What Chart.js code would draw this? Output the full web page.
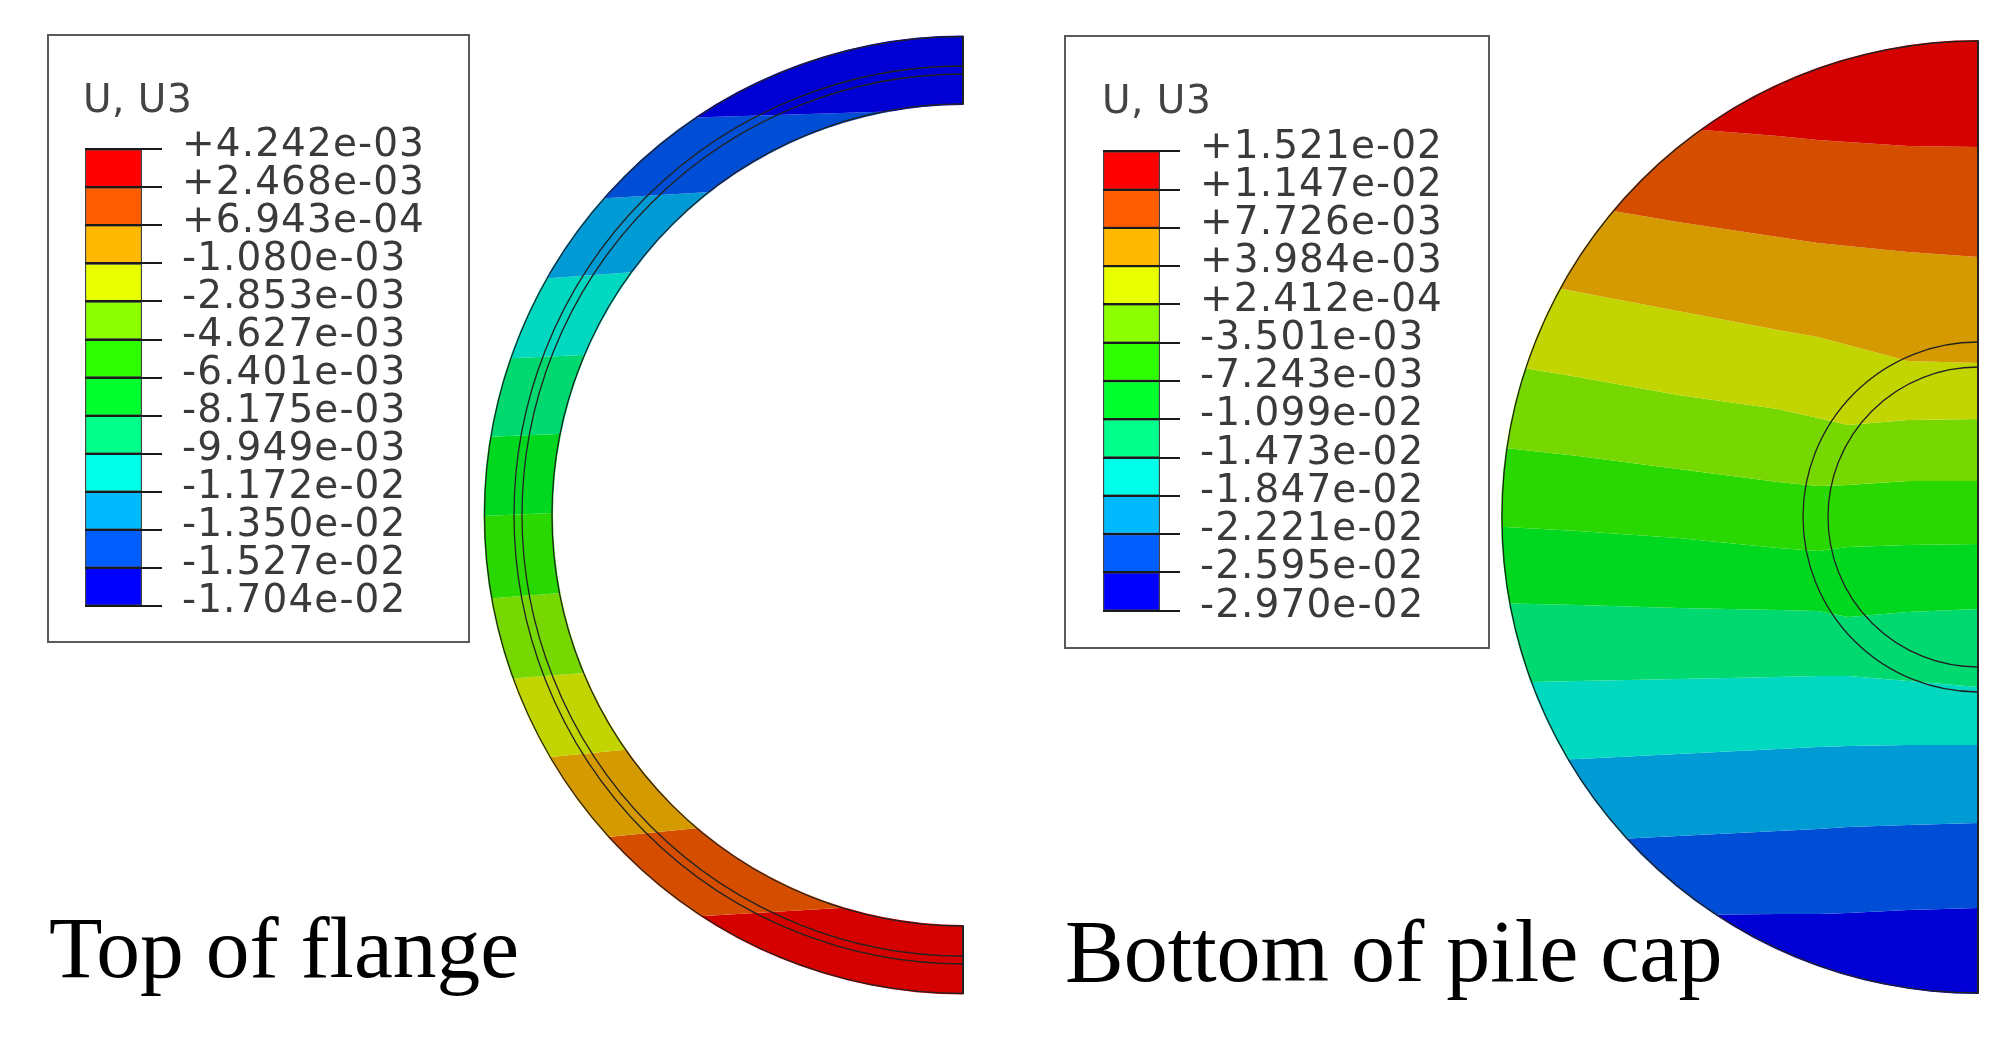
<!DOCTYPE html>
<html><head><meta charset="utf-8">
<script src="https://cdn.jsdelivr.net/npm/chart.js@4"></script>
<style>
html,body{margin:0;padding:0;background:#fff;overflow:hidden}
#page{position:relative;width:2016px;height:1041px;filter:blur(.7px)}
#page canvas{position:absolute}
.wrap{position:absolute}
.box{position:absolute;box-sizing:border-box;border:2.5px solid #5a5a5a}
.utitle{position:absolute;font:39px "DejaVu Sans";letter-spacing:.5px;color:#444;line-height:39px;white-space:nowrap}
.cap{position:absolute;font:87.5px "Liberation Serif";color:#000;line-height:86px;white-space:nowrap}
</style></head><body>
<div id="page">
<div class="box" style="left:47px;top:34px;width:423px;height:609px"></div>
<div class="box" style="left:1064px;top:35px;width:426px;height:614px"></div>
<div class="utitle" style="left:83px;top:79px">U, U3</div>
<div class="utitle" style="left:1102px;top:80px">U, U3</div>
<div class="cap" style="left:49px;top:905px">Top of flange</div>
<div class="cap" style="left:1065px;top:909px;font-size:88px">Bottom of pile cap</div>
<div class="wrap" style="left:473px;top:25px;width:492px;height:980px"><canvas id="ring"></canvas></div>
<div class="wrap" style="left:1488px;top:27px;width:492px;height:980px"><canvas id="disc"></canvas></div>
<div class="wrap" style="left:85px;top:106px;width:380px;height:543px"><canvas id="legendA"></canvas></div>
<div class="wrap" style="left:1103px;top:108px;width:380px;height:546px"><canvas id="legendB"></canvas></div>
</div>
<script>
// --- legend values
const flangeTicks = ["+4.242e-03","+2.468e-03","+6.943e-04","-1.080e-03","-2.853e-03","-4.627e-03","-6.401e-03","-8.175e-03","-9.949e-03","-1.172e-02","-1.350e-02","-1.527e-02","-1.704e-02"];
const capTicks = ["+1.521e-02","+1.147e-02","+7.726e-03","+3.984e-03","+2.412e-04","-3.501e-03","-7.243e-03","-1.099e-02","-1.473e-02","-1.847e-02","-2.221e-02","-2.595e-02","-2.970e-02"];
const legendColors = ["#FF0000","#FF5D00","#FFB900","#E8FF00","#8BFF00","#2EFF00","#00FF2E","#00FF8B","#00FFE8","#00B9FF","#005DFF","#0000FF"];
const bandColors = ["#D50000","#D54E00","#D59A00","#C3D500","#76D800","#28D800","#00D820","#00D870","#00D8C0","#009AD5","#004ED5","#0000D5"];

// --- top of flange: ring radii and contour boundaries (y at ringX, top to bottom, model units)
const ringRadii = {outer:478.5, inner:411, lineA:449, lineB:441};
const ringX = [-490, 0];
const ringTop = [490, 490];
const ringB1 = [390.7, 405.7];
const ringB2 = [309, 337.9];
const ringB3 = [231.3, 266.8];
const ringB4 = [155.1, 177.2];
const ringB5 = [77.6, 97.3];
const ringB6 = [-1.4, 19.7];
const ringB7 = [-84.7, -47];
const ringB8 = [-166.6, -129];
const ringB9 = [-249.4, -202];
const ringB10 = [-335.6, -286.6];
const ringB11 = [-414.7, -385.7];
const ringBottom = [-490, -490];
const ringBounds = [ringTop,ringB1,ringB2,ringB3,ringB4,ringB5,ringB6,ringB7,ringB8,ringB9,ringB10,ringB11,ringBottom];
const ringColorsTopDown = bandColors.slice().reverse();

// --- bottom of pile cap: disc radii and contour boundaries
const discRadii = {outer:476, lineA:175, lineB:150};
const discX = [-490,-400,-300,-200,-160,-130,-70,0];
const discTop = [490,490,490,490,490,490,490,490];
const discB1 = [405,398,389,381,377,375,371,370];
const discB2 = [326,312,295,280,274,271,265,260];
const discB3 = [242,225,206,187,180,172,156,154];
const discB4 = [155,140,122,108,99,92,97,98];
const discB5 = [71,61,48,35,31,32,36,36];
const discB6 = [-9,-14,-21,-31,-34,-30,-28,-27];
const discB7 = [-86,-88,-91,-93,-94,-100,-95,-92];
const discB8 = [-166,-164,-162,-160,-159,-159,-164,-170];
const discB9 = [-244,-242,-237,-232,-230,-229,-228,-228];
const discB10 = [-329,-324,-319,-314,-312,-310,-308,-306];
const discB11 = [-400,-399,-398,-397,-397,-396,-393,-391];
const discBottom = [-490,-490,-490,-490,-490,-490,-490,-490];
const discBounds = [discTop,discB1,discB2,discB3,discB4,discB5,discB6,discB7,discB8,discB9,discB10,discB11,discBottom];

Chart.defaults.animation = false;
Chart.defaults.responsive = false;
Chart.defaults.events = [];

function legendChart(id, labels, h){
  const el = document.getElementById(id);
  el.width = 380; el.height = h;
  const values = labels.map(Number);
  const datasets = legendColors.map((c,i)=>({
    data:[[values[i+1],values[i]]], backgroundColor:c, borderColor:'#444', borderWidth:1.5,
    borderSkipped:false, grouped:false, barPercentage:1, categoryPercentage:1
  }));
  new Chart(el,{type:'bar',data:{labels:['U3'],datasets},options:{
    devicePixelRatio:1, maintainAspectRatio:false,
    layout:{padding:{top:30,bottom:30}},
    plugins:{legend:{display:false},tooltip:{enabled:false},title:{display:false}},
    scales:{
      x:{display:false},
      y:{position:'right',min:values[values.length-1],max:values[0],
        afterBuildTicks:s=>{s.ticks=values.map(v=>({value:v}));},
        afterFit:s=>{s.width=380-57;},
        border:{display:false},
        grid:{color:'#1a1a1a',lineWidth:2,tickLength:20,z:1,drawOnChartArea:true},
        ticks:{autoSkip:false,padding:20,labelOffset:-4,color:'#3a3a3a',font:{family:'DejaVu Sans',size:39},
          callback:(v,i)=>labels[i]}
      }
    }
  },plugins:[{id:'wideText',beforeDraw(chart){chart.ctx.letterSpacing='1.1px';}}]});
}

function contourChart(id, xs, bounds, colors, circles, clipFn, edges){
  const el = document.getElementById(id);
  el.width = 492; el.height = 980;
  const toPts = (ys)=>ys.map((y,i)=>({x:xs[i],y}));
  const ds = [];
  bounds.forEach((ys,i)=>{
    ds.push({data:toPts(ys),borderWidth:0,pointRadius:0,tension:0,order:5,
      fill:i===0?false:'-1',backgroundColor:i===0?'transparent':colors[i-1],borderColor:'transparent'});
  });
  circles.forEach(r=>{
    ds.push({data:[{x:0,y:0}],showLine:false,order:1,
      pointStyle:'circle',backgroundColor:'transparent',borderColor:'#222',pointBorderWidth:1.3,
      pointBackgroundColor:'transparent',pointBorderColor:'#222',
      pointRadius:c=>c.chart.scales.x.getPixelForValue(r)-c.chart.scales.x.getPixelForValue(0)});
  });
  edges.forEach(seg=>{
    ds.push({data:seg.map(y=>({x:0,y})),borderColor:'#222',borderWidth:2,pointRadius:0,order:1,fill:false,clip:3});
  });
  new Chart(el,{type:'line',data:{datasets:ds},options:{
    devicePixelRatio:1, maintainAspectRatio:false,
    layout:{padding:0},
    plugins:{legend:{display:false},tooltip:{enabled:false},title:{display:false}},
    scales:{
      x:{type:'linear',display:false,min:-490,max:2},
      y:{type:'linear',display:false,min:-490,max:490}
    }
  },plugins:[{
    id:'shapeClip',
    beforeDatasetsDraw(chart){
      const ctx=chart.ctx, sx=chart.scales.x, sy=chart.scales.y;
      const cx=sx.getPixelForValue(0), cy=sy.getPixelForValue(0), u=v=>sx.getPixelForValue(v)-cx;
      ctx.save();
      ctx.beginPath();
      ctx.rect(0,0,cx+1,chart.height);
      ctx.clip();
      ctx.beginPath();
      clipFn(ctx,cx,cy,u);
      ctx.clip('evenodd');
    },
    afterDatasetsDraw(chart){chart.ctx.restore();}
  }]});
}

legendChart('legendA',flangeTicks,543);
legendChart('legendB',capTicks,546);
contourChart('ring',ringX,ringBounds,ringColorsTopDown,
  [ringRadii.outer,ringRadii.inner,ringRadii.lineA,ringRadii.lineB],
  (ctx,cx,cy,u)=>{ctx.arc(cx,cy,u(ringRadii.outer+1),0,Math.PI*2);ctx.arc(cx,cy,u(ringRadii.inner-1),0,Math.PI*2);},
  [[ringRadii.inner,ringRadii.outer],[-ringRadii.outer,-ringRadii.inner]]);
contourChart('disc',discX,discBounds,bandColors,
  [discRadii.outer,discRadii.lineA,discRadii.lineB],
  (ctx,cx,cy,u)=>{ctx.arc(cx,cy,u(discRadii.outer+1),0,Math.PI*2);},
  [[discRadii.outer,-discRadii.outer]]);
</script>
</body></html>
